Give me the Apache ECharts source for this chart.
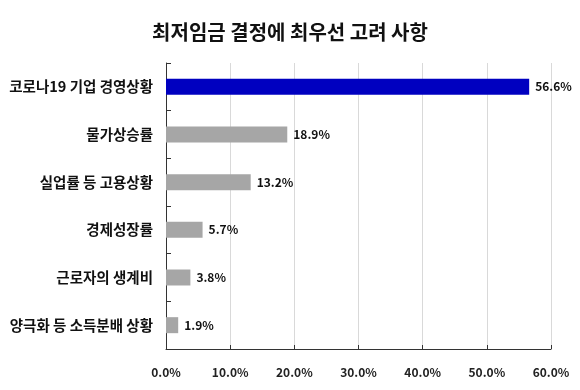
<!DOCTYPE html>
<html><head><meta charset="utf-8">
<script src="https://cdn.jsdelivr.net/npm/echarts@6/dist/echarts.min.js"></script>
<style>html,body{margin:0;padding:0;background:#fff}#c{width:580px;height:390px}</style>
</head><body><div id="c"></div>
<script>
const title = '최저임금 결정에 최우선 고려 사항';
const categories = ['코로나19 기업 경영상황', '물가상승률', '실업률 등 고용상황', '경제성장률', '근로자의 생계비', '양극화 등 소득분배 상황'];
const values = [56.6, 18.9, 13.2, 5.7, 3.8, 1.9];
const highlightIndex = 0;
const font = '"Noto Sans CJK KR", "Noto Sans", sans-serif';

const chart = echarts.init(document.getElementById('c'), null, {renderer: 'canvas'});
chart.setOption({
  animation: false,
  backgroundColor: '#fff',
  title: {
    text: title, left: 'center', top: 17,
    textStyle: {fontFamily: font, fontSize: 20, fontWeight: 'bold', color: '#111'}
  },
  grid: {left: 166, right: 29, top: 63, bottom: 41},
  xAxis: {
    type: 'value', min: 0, max: 60, interval: 10,
    axisLine: {show: true, lineStyle: {color: '#333', width: 1}},
    axisTick: {show: true, inside: true, length: 4, lineStyle: {color: '#333'}},
    splitLine: {show: true, lineStyle: {color: '#d9d9d9'}},
    axisLabel: {formatter: v => v.toFixed(1) + '%', margin: 17, fontFamily: font, fontSize: 12, fontWeight: 'bold', color: '#222'}
  },
  yAxis: {
    type: 'category', data: categories, inverse: true,
    axisLine: {show: true, lineStyle: {color: '#333', width: 1}},
    axisTick: {show: true, inside: true, length: 5, lineStyle: {color: '#333'}},
    axisLabel: {margin: 13, fontFamily: font, fontSize: 14.5, fontWeight: 'bold', color: '#111'}
  },
  series: [{
    type: 'bar', barWidth: 16,
    data: values.map((v, i) => ({
      value: v,
      itemStyle: {color: i === highlightIndex ? '#0000c0' : '#a6a6a6'}
    })),
    label: {show: true, position: 'right', distance: 6, formatter: p => p.value.toFixed(1) + '%', fontFamily: font, fontSize: 12, fontWeight: 'bold', color: '#111'}
  }]
});
</script></body></html>
